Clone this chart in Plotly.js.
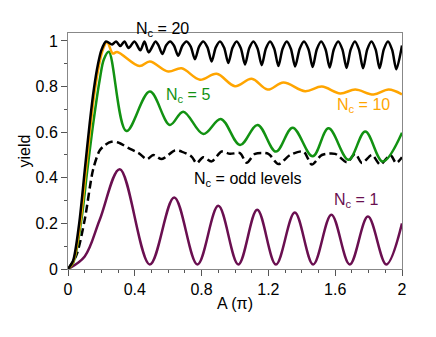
<!DOCTYPE html>
<html>
<head>
<meta charset="utf-8">
<script src="https://cdn.plot.ly/plotly-3.0.1.min.js"></script>
<style>html,body{margin:0;padding:0;background:#fff;}#chart{width:436px;height:337px;}</style>
</head>
<body>
<div id="chart"></div>
<script>
// N_c = 20 (black)
const a20 = [0,0.03,0.067,0.1,0.13,0.155,0.18,0.2,0.228,
  0.264,0.288,0.313,0.338,0.363,0.398,0.433,0.458,0.483,0.524,
  0.542,0.565,0.588,0.612,0.635,0.66,0.685,0.71,0.735,0.76,0.785,0.81,0.835,0.86,0.885,0.91,0.935,0.96,0.985,1.01,1.035,
  1.06,1.085,1.11,1.135,1.16,1.185,1.21,1.235,1.26,1.285,1.31,1.335,1.36,1.387,1.413,1.44,1.465,1.49,1.516,1.542,
  1.567,1.592,1.618,1.643,1.668,1.693,1.718,1.742,1.767,1.792,1.817,1.842,1.866,1.891,1.916,1.941,1.966,2.0];
const y20 = [0,0.035,0.2,0.43,0.64,0.79,0.9,0.96,0.998,
  0.985,0.998,0.978,0.998,0.969,0.998,0.959,0.998,0.95,0.998,
  0.981,0.943,0.981,0.998,0.979,0.935,0.979,0.998,0.975,0.92,0.975,0.998,0.972,0.91,0.972,0.998,0.970,0.903,0.970,0.998,0.968,
  0.897,0.968,0.998,0.967,0.894,0.967,0.998,0.966,0.89,0.966,0.998,0.965,0.888,0.965,0.998,0.964,0.886,0.964,0.998,0.964,
  0.884,0.964,0.998,0.963,0.882,0.963,0.998,0.963,0.88,0.963,0.998,0.963,0.88,0.963,0.998,0.961,0.876,0.98];

// N_c = 10 (orange)
const a10 = [0,0.03,0.073,0.105,0.135,0.16,0.19,0.21,0.234,0.268,0.294,0.428,0.49,0.6,0.68,0.79,0.89,1.0,1.1,1.195,1.29,1.42,1.52,1.63,1.72,1.83,1.92,2.0];
const y10 = [0,0.03,0.2,0.42,0.63,0.78,0.91,0.965,0.996,0.945,0.952,0.89,0.91,0.866,0.88,0.83,0.856,0.802,0.834,0.787,0.818,0.78,0.8,0.77,0.787,0.765,0.787,0.766];

// N_c = 5 (green)
const a5 = [0,0.03,0.08,0.115,0.154,0.19,0.215,0.244,0.35,0.49,0.61,0.69,0.81,0.915,1.03,1.135,1.245,1.345,1.465,1.56,1.68,1.78,1.885,2.0];
const y5 = [0,0.025,0.216,0.43,0.654,0.83,0.92,0.953,0.605,0.778,0.632,0.69,0.592,0.658,0.544,0.632,0.515,0.62,0.494,0.617,0.479,0.603,0.471,0.597];

// N_c = odd levels (black dashed)
const aOdd = [0,0.05,0.1,0.15,0.19,0.224,0.26,0.3,0.363,0.423,0.473,0.51,0.562,0.64,0.68,0.74,0.77,0.81,0.86,0.92,0.97,1.03,1.07,1.12,1.2,1.26,1.33,1.41,1.46,1.52,1.6,1.67,1.72,1.76,1.82,1.87,1.93,1.965,2.0];
const yOdd = [0,0.06,0.216,0.435,0.52,0.545,0.558,0.555,0.53,0.508,0.482,0.5,0.482,0.52,0.515,0.493,0.464,0.49,0.472,0.515,0.505,0.508,0.466,0.505,0.505,0.46,0.5,0.515,0.458,0.5,0.505,0.468,0.505,0.465,0.5,0.458,0.5,0.465,0.49];

// N_c = 1 (purple)
const a1 = [0,0.1,0.19,0.31,0.49,0.636,0.775,0.9,1.02,1.133,1.245,1.358,1.468,1.577,1.687,1.796,1.906,2.0];
const y1 = [0,0.055,0.216,0.438,0.02,0.314,0.02,0.277,0.02,0.26,0.02,0.248,0.02,0.238,0.02,0.23,0.02,0.2];

const xTicks = [0,0.4,0.8,1.2,1.6,2];
const xTickText = ['0','0.4','0.8','1.2','1.6','2'];
const yTicks = [0,0.2,0.4,0.6,0.8,1];
const yTickText = ['0','0.2','0.4','0.6','0.8','1'];

const cBlack = '#000000', cOrange = '#ffa500', cGreen = '#129212', cPurple = '#6a0f50';
const FONT = 'Liberation Sans, Arial, Helvetica, sans-serif';

const traces = [
  {x: aOdd, y: yOdd, mode: 'lines', line: {color: cBlack, width: 2.5, dash: '8px,4px', shape: 'spline', smoothing: 0.8}},
  {x: a1, y: y1, mode: 'lines', line: {color: cPurple, width: 2.5, shape: 'spline', smoothing: 1}},
  {x: a5, y: y5, mode: 'lines', line: {color: cGreen, width: 2.5, shape: 'spline', smoothing: 1}},
  {x: a10, y: y10, mode: 'lines', line: {color: cOrange, width: 2.5, shape: 'spline', smoothing: 1}},
  {x: a20, y: y20, mode: 'lines', line: {color: cBlack, width: 2.5, shape: 'spline', smoothing: 0.8}}
];

const ann = (text, x, y, color, yref) => ({text, x, y, xref: 'x', yref: yref || 'y', xanchor: 'left', yanchor: 'middle', showarrow: false, font: {family: FONT, size: 16, color}});

const layout = {
  width: 436, height: 337,
  margin: {l: 67.5, r: 33.5, t: 33, b: 68, pad: 0},
  paper_bgcolor: '#fff', plot_bgcolor: '#fff',
  showlegend: false,
  font: {family: FONT, size: 16, color: '#000'},
  xaxis: {
    range: [0, 2], tickvals: xTicks, ticktext: xTickText,
    showgrid: false, zeroline: false, showline: true, mirror: true, linecolor: '#888', linewidth: 1,
    ticks: 'outside', ticklen: 6, tickcolor: '#555', tickwidth: 1,
    minor: {dtick: 0.1, ticks: 'outside', ticklen: 3, tickcolor: '#555', showgrid: false},
    tickfont: {family: FONT, size: 16, color: '#000'},
    title: {text: 'A (π)', font: {family: FONT, size: 16, color: '#000'}, standoff: 0}
  },
  yaxis: {
    range: [0, 1.035], tickvals: yTicks, ticktext: yTickText,
    showgrid: false, zeroline: false, showline: true, mirror: true, linecolor: '#888', linewidth: 1,
    ticks: 'outside', ticklen: 6, tickcolor: '#555', tickwidth: 1,
    minor: {dtick: 0.1, ticks: 'outside', ticklen: 3, tickcolor: '#555', showgrid: false},
    tickfont: {family: FONT, size: 16, color: '#000'},
    title: {text: 'yield', font: {family: FONT, size: 16, color: '#000'}, standoff: 0}
  },
  annotations: [
    ann('N<sub>c</sub> = 20', 0.397, 1.014, cBlack, 'paper'),
    ann('N<sub>c</sub> = 5', 0.575, 0.762, cGreen),
    ann('N<sub>c</sub> = 10', 1.6, 0.715, cOrange),
    ann('N<sub>c</sub> = odd levels', 0.745, 0.392, cBlack),
    ann('N<sub>c</sub> = 1', 1.58, 0.3, cPurple)
  ]
};

Plotly.newPlot('chart', traces, layout, {staticPlot: true, displayModeBar: false});
</script>
</body>
</html>
